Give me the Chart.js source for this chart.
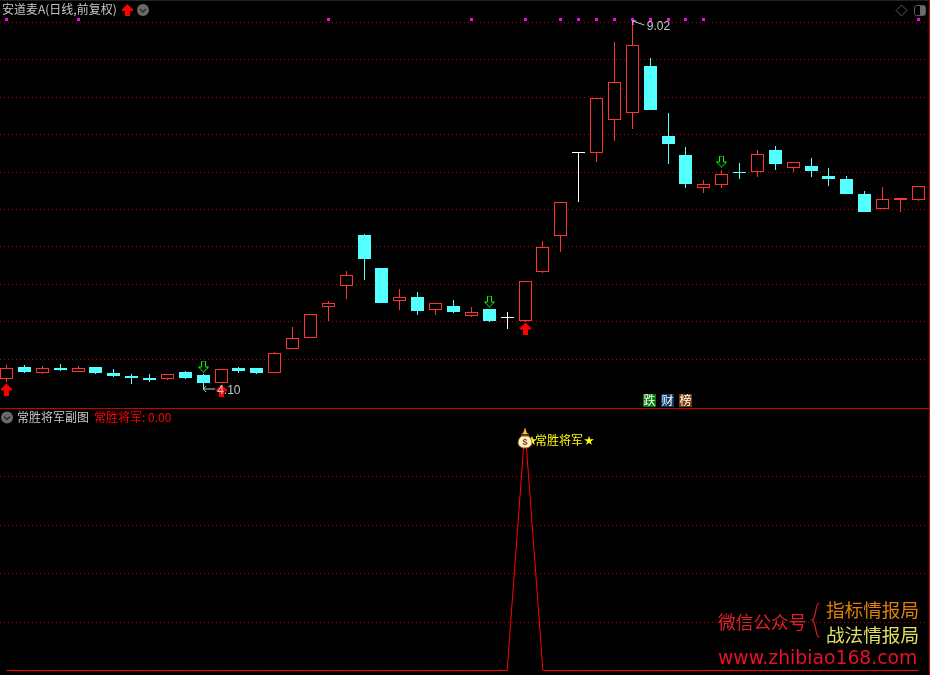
<!DOCTYPE html>
<html><head><meta charset="utf-8">
<script src="https://cdn.jsdelivr.net/npm/chart.js@4"></script>
<style>
html,body{margin:0;padding:0;background:#000;width:930px;height:675px;overflow:hidden}
canvas{position:absolute;left:0;display:block}
#main{top:0}#sub{top:408px}
</style></head><body>
<canvas id="main" width="930" height="408"></canvas>
<canvas id="sub" width="930" height="267"></canvas>
<script>
const opens =[4.24,4.40,4.32,4.38,4.33,4.40,4.31,4.27,4.25,4.24,4.33,4.29,4.18,4.38,4.38,4.32,4.64,4.78,5.19,5.48,6.16,5.72,5.27,5.33,5.16,5.21,5.08,5.17,5.05,5.01,5.67,6.15,7.25,7.25,7.69,7.79,8.42,7.48,7.23,6.79,6.83,7.00,7.00,7.30,7.05,7.08,6.95,6.91,6.71,6.50,6.62,6.62];
const highs =[4.42,4.42,4.41,4.43,4.41,4.40,4.37,4.30,4.30,4.30,4.34,4.30,4.37,4.40,4.38,4.60,4.93,5.10,5.28,5.68,6.17,5.72,5.44,5.40,5.25,5.29,5.20,5.17,5.13,5.54,6.08,6.60,7.25,7.99,8.74,9.02,8.52,7.79,7.34,6.89,7.03,7.12,7.29,7.35,7.13,7.19,7.05,6.95,6.75,6.80,6.65,6.82];
const lows  =[4.20,4.32,4.30,4.34,4.33,4.30,4.26,4.17,4.19,4.22,4.23,4.10,4.18,4.31,4.30,4.32,4.64,4.78,5.01,5.30,5.56,5.25,5.16,5.09,5.09,5.12,5.06,5.00,4.90,5.00,5.65,5.93,6.60,7.14,7.42,7.57,7.83,7.11,6.79,6.72,6.79,6.91,6.93,7.03,7.00,6.93,6.82,6.71,6.47,6.50,6.47,6.61];
const closes=[4.38,4.33,4.38,4.35,4.38,4.32,4.27,4.25,4.22,4.30,4.25,4.18,4.37,4.34,4.31,4.58,4.78,5.10,5.25,5.62,5.84,5.25,5.33,5.14,5.25,5.13,5.13,5.01,5.05,5.54,6.00,6.60,7.25,7.99,8.20,8.70,7.83,7.37,6.84,6.84,6.98,6.99,7.24,7.11,7.13,7.01,6.91,6.71,6.47,6.64,6.65,6.81];
const priceGrid=[9,8.5,8,7.5,7,6.5,6,5.5,5,4.5];
const topMarkIdx=[0,4,18,26,29,31,32,33,34,35,36,37,38,39,51];
const topMarkPrice=9.04;
const upIdx=[0,12,29];     const upPrice=[4.09,4.08,4.91];
const downIdx=[11,27,40];  const downPrice=[4.40,5.27,7.14];
const subValues=[0,0,0,0,0,0,0,0,0,0,0,0,0,0,0,0,0,0,0,0,0,0,0,0,0,0,0,0,0,100,0,0,0,0,0,0,0,0,0,0,0,0,0,0,0,0,0,0,0,0,0,0];
const subGrid=[20,40,60,80];
const titleText='安道麦A(日线,前复权)';
const subTitle='常胜将军副图';
const subValueText='常胜将军: 0.00';
const signalText='常胜将军';
const signalStar='★';
const badgeTexts=['跌','财','榜'];

const RED='#ff3232',CYAN='#54ffff',WHITE='#ffffff';
const idx=opens.map((_,i)=>i);
const candleColor=i=>closes[i]>opens[i]?RED:closes[i]<opens[i]?CYAN:WHITE;

function sprite(w,h,fn){const c=document.createElement('canvas');c.width=w;c.height=h;fn(c.getContext('2d'));return c;}
const upArrow=sprite(11,12,g=>{g.fillStyle='#ff0000';g.beginPath();g.moveTo(5.5,0);g.lineTo(11,5.5);g.lineTo(11,7);g.lineTo(8,7);g.lineTo(8,12);g.lineTo(3,12);g.lineTo(3,7);g.lineTo(0,7);g.lineTo(0,5.5);g.closePath();g.fill();});
const downArrow=sprite(11,12,g=>{g.strokeStyle='#00ff00';g.lineWidth=1;g.beginPath();g.moveTo(3.5,.5);g.lineTo(7.5,.5);g.lineTo(7.5,6.5);g.lineTo(10.5,6.5);g.lineTo(5.5,11.5);g.lineTo(.5,6.5);g.lineTo(3.5,6.5);g.closePath();g.stroke();});
const magenta=sprite(3,3,g=>{g.fillStyle='#ff00ff';g.fillRect(0,0,3,3);});

// keep marks on whole pixels, as the reference does
(function(){
  const Bar=Chart.BarElement||Chart.registry.getElement('bar');
  const barDraw=Bar.prototype.draw;
  Bar.prototype.draw=function(ctx){
    const s=[this.x,this.y,this.base];
    this.x=Math.floor(this.x)+.5;this.y=Math.round(this.y);this.base=Math.round(this.base);
    if(this.y===this.base)this.base=this.y+1;
    barDraw.call(this,ctx);
    [this.x,this.y,this.base]=s;
  };
  const Pt=Chart.PointElement||Chart.registry.getElement('point');
  const ptDraw=Pt.prototype.draw;
  Pt.prototype.draw=function(ctx,area){
    const s=[this.x,this.y];
    this.x=Math.floor(this.x)+.5;this.y=Math.floor(this.y)+.5;
    ptDraw.call(this,ctx,area);
    [this.x,this.y]=s;
  };
})();

const X_MIN=-0.3635,X_MAX=51.538;
const xAxis=()=>({type:'linear',display:false,min:X_MIN,max:X_MAX,offset:false});
const CJK='"Noto Sans CJK SC","Noto Sans",sans-serif';

function chevronCircle(g,x,y){
  g.fillStyle='#6a6a6a';g.beginPath();g.arc(x,y,6,0,Math.PI*2);g.fill();
  g.strokeStyle='#2a2a2a';g.lineWidth=1.4;g.beginPath();g.moveTo(x-3,y-1);g.lineTo(x,y+2);g.lineTo(x+3,y-1);g.stroke();
}
function txt(g,s,x,y,font,color,align){g.font=font;g.fillStyle=color;g.textAlign=align||'left';g.textBaseline='middle';g.fillText(s,x,y);}

const mainOverlay={id:'mainOverlay',afterDraw(c){
  const g=c.ctx,xs=c.scales.x,ys=c.scales.y;g.save();
  g.fillStyle='#222';g.fillRect(0,0,930,1);
  g.fillStyle='#c00000';g.fillRect(929,0,1,408);
  txt(g,titleText,2,9.5,'12px '+CJK,'#c8c8c8');
  g.drawImage(upArrow,122,4);
  chevronCircle(g,143,10);
  g.strokeStyle='#5a5a5a';g.lineWidth=1;
  g.beginPath();g.moveTo(901.5,5);g.lineTo(907,10.5);g.lineTo(901.5,16);g.lineTo(896,10.5);g.closePath();g.stroke();
  g.beginPath();g.roundRect(914.5,5.5,11,10,2);g.stroke();
  g.fillStyle='#6a6a6a';g.fillRect(920,6,5,9);
  const hx=xs.getPixelForValue(35),hy=ys.getPixelForValue(9.02);
  g.strokeStyle='#c8c8c8';g.lineWidth=1;
  g.beginPath();g.moveTo(hx,hy);g.lineTo(hx+12,hy+4);g.moveTo(hx,hy);g.lineTo(hx+4,hy);g.moveTo(hx,hy);g.lineTo(hx+1,hy+4);g.stroke();
  txt(g,'9.02',hx+14.5,27,'12px "Liberation Sans"','#c8c8c8');
  const lx=xs.getPixelForValue(11),ly=ys.getPixelForValue(4.10);
  g.beginPath();g.moveTo(lx,ly);g.lineTo(lx+12,ly);g.moveTo(lx,ly);g.lineTo(lx+3,ly-3);g.moveTo(lx,ly);g.lineTo(lx+3,ly+3);g.stroke();
  txt(g,'4.10',lx+14,391,'12px "Liberation Sans"','#c8c8c8');
  const bg=['#0a7a0a','#0f3a6e','#7a3a08'],bx=[643,661,679];
  badgeTexts.forEach((t,i)=>{g.fillStyle=bg[i];g.fillRect(bx[i],394,13,13);txt(g,t,bx[i]+6.5,400.5,'12px '+CJK,'#ffffff','center');});
  g.restore();
}};

const subOverlay={id:'subOverlay',afterDraw(c){
  const g=c.ctx,xs=c.scales.x,ys=c.scales.y;g.save();
  g.fillStyle='#c80000';g.fillRect(0,0,930,1);
  g.fillStyle='#c00000';g.fillRect(929,0,1,267);
  chevronCircle(g,7,9.5);
  txt(g,subTitle,17,9.5,'12px '+CJK,'#c8c8c8');
  txt(g,subValueText,94,9.5,'12px '+CJK,'#ff0000');
  const sx=Math.round(xs.getPixelForValue(29)),sy=ys.getPixelForValue(100);
  txt(g,signalStar,sx+2,32,'10px '+CJK,'#ffff00');
  txt(g,signalText,sx+10,32,'12px '+CJK,'#ffff00');
  txt(g,signalStar,sx+59,32,'10px '+CJK,'#ffff00');
  const by=33.5;
  g.fillStyle='#e8c020';g.beginPath();g.moveTo(sx,sy);g.lineTo(sx+2,sy+5);g.lineTo(sx+4,sy+6);g.lineTo(sx-4,sy+6);g.lineTo(sx-2,sy+5);g.closePath();g.fill();
  g.fillStyle='#fff4c0';g.strokeStyle='#a06a30';g.lineWidth=1;
  g.beginPath();g.moveTo(sx-3,by-6);g.lineTo(sx+3,by-6);g.bezierCurveTo(sx+9,by-1,sx+8,by+6.5,sx,by+6.5);g.bezierCurveTo(sx-8,by+6.5,sx-9,by-1,sx-3,by-6);g.closePath();g.fill();g.stroke();
  g.fillStyle='#7a4a30';g.fillRect(sx-4,by-7,8,2);
  txt(g,'$',sx,by+1.5,'bold 9px "Liberation Sans"','#8a3a3a','center');
  txt(g,'微信公众号',718,214,'17.7px '+CJK,'#e0202a');
  txt(g,'指标情报局',826,202,'18.6px '+CJK,'#e08008');
  txt(g,'战法情报局',826,227,'18.6px '+CJK,'#e0e060');
  g.strokeStyle='#d82030';g.lineWidth=1.2;
  g.beginPath();g.moveTo(819.5,195);g.bezierCurveTo(814.5,195,817,210,812,212);g.bezierCurveTo(817,214,814.5,229,819.5,229);g.stroke();
  txt(g,'www.zhibiao168.com',718,251,'18.8px "DejaVu Sans"','#e8102a');
  g.restore();
}};

new Chart(document.getElementById('main'),{
  type:'bar',
  data:{datasets:[
    {label:'影线',order:3,grouped:false,barThickness:1,maxBarThickness:1,inflateAmount:0,
     data:idx.map(i=>({x:i,y:[lows[i],highs[i]]})),
     backgroundColor:idx.map(candleColor),borderWidth:0},
    {label:'K线',order:2,grouped:false,barThickness:13,maxBarThickness:13,minBarLength:1,inflateAmount:0,
     data:idx.map(i=>({x:i,y:[opens[i],closes[i]]})),
     backgroundColor:idx.map(i=>closes[i]>opens[i]?'#000000':candleColor(i)),
     borderColor:idx.map(candleColor),borderWidth:idx.map(i=>closes[i]>opens[i]?1:0),borderSkipped:false},
    {type:'line',label:'顶部标记',order:1,showLine:false,clip:false,
     data:topMarkIdx.map(i=>({x:i,y:topMarkPrice})),pointStyle:magenta},
    {type:'line',label:'买入',order:1,showLine:false,clip:false,
     data:upIdx.map((i,k)=>({x:i,y:upPrice[k]})),pointStyle:upArrow},
    {type:'line',label:'卖出',order:1,showLine:false,clip:false,
     data:downIdx.map((i,k)=>({x:i,y:downPrice[k]})),pointStyle:downArrow}
  ]},
  options:{responsive:false,animation:false,devicePixelRatio:1,
    layout:{autoPadding:false,padding:{left:0,right:2,top:0,bottom:0}},
    plugins:{legend:{display:false},title:{display:false},tooltip:{enabled:false}},
    events:[],
    scales:{x:xAxis(),
      y:{type:'linear',min:3.846,max:9.30,
         afterBuildTicks(s){s.ticks=priceGrid.map(v=>({value:v}));},
         ticks:{display:false},
         border:{display:false,dash:[1,3]},
         grid:{color:'#b00000',lineWidth:1,drawTicks:false}}}
  },
  plugins:[mainOverlay]
});

new Chart(document.getElementById('sub'),{
  type:'line',
  data:{datasets:[{label:'常胜将军',data:idx.map(i=>({x:i,y:subValues[i]})),
    borderColor:'#ff0000',borderWidth:1,pointRadius:0,tension:0,clip:false}]},
  options:{responsive:false,animation:false,devicePixelRatio:1,
    layout:{autoPadding:false,padding:{left:0,right:2,top:0,bottom:0}},
    plugins:{legend:{display:false},title:{display:false},tooltip:{enabled:false}},
    events:[],
    scales:{x:xAxis(),
      y:{type:'linear',min:-1.856,max:108.25,
         afterBuildTicks(s){s.ticks=subGrid.map(v=>({value:v}));},
         ticks:{display:false},
         border:{display:false,dash:[1,3]},
         grid:{color:'#b00000',lineWidth:1,drawTicks:false}}}
  },
  plugins:[subOverlay]
});
</script>
</body></html>
